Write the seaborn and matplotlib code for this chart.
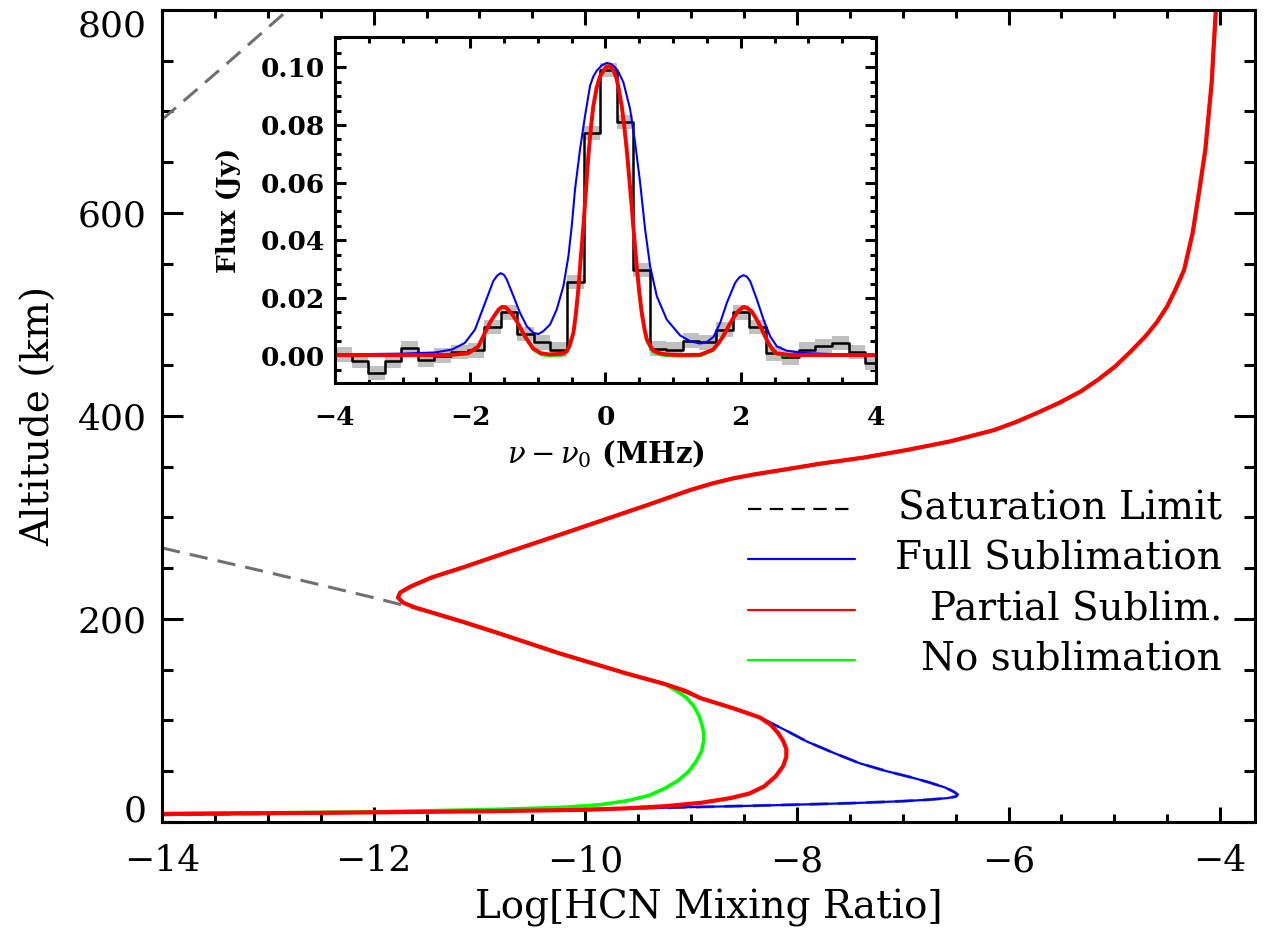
import matplotlib
matplotlib.use("Agg")
import matplotlib.pyplot as plt
from matplotlib.ticker import MultipleLocator, FormatStrFormatter
import seaborn as sns

# ---- main panel: HCN mixing-ratio profiles (log10 mixing ratio vs altitude, km) ----
# shared upper branch, from the top down to where the no-sublimation model splits off
common_x = [-4.04, -4.06, -4.08, -4.11, -4.14, -4.20, -4.26, -4.34, -4.42, -4.50,
            -4.60, -4.71, -4.85, -4.99, -5.15, -5.32, -5.52, -5.73, -5.93, -6.14,
            -6.55, -6.96, -7.37, -7.78, -8.19, -8.40, -8.60, -8.80, -9.01, -9.42,
            -9.83, -10.24, -10.70, -11.15, -11.45, -11.65, -11.75, -11.77,
            -11.72, -11.60, -11.47, -11.15, -10.82, -10.24, -9.60, -9.25]
common_alt = [800, 765, 728, 695, 662, 620, 580, 544, 525, 508,
              492, 478, 463, 449, 436, 424, 413, 403, 394, 386,
              375, 366.5, 359, 353, 346, 342.5, 338.6, 333.5, 327, 312,
              297.5, 283, 267, 251, 241, 232, 226, 221,
              216, 211, 207, 197, 186, 166, 146, 136]

full_x = [-9.05, -8.91, -8.60, -8.35, -8.10, -7.90, -7.65, -7.41, -7.15, -6.92,
          -6.75, -6.60, -6.52, -6.48, -6.50, -6.58, -6.75, -7.00, -7.50, -8.22,
          -9.05, -10.0, -12.0, -14.0]
full_alt = [129, 122, 112, 103, 90, 79, 68, 58, 50, 44,
            39, 34, 30, 27, 25, 23.5, 22, 20.5, 18.5, 16.5,
            14.5, 12.5, 9.5, 7]

partial_x = [-9.05, -8.91, -8.60, -8.35, -8.25, -8.18, -8.13, -8.10, -8.10, -8.13,
             -8.20, -8.31, -8.45, -8.63, -8.90, -9.25, -9.60, -10.0, -11.0, -12.5, -14.0]
partial_alt = [129, 122, 112, 103, 96, 88, 80, 72, 64, 55,
               45, 35, 28, 23.5, 19, 15.5, 13.5, 12, 10.5, 9, 8]

none_x = [-9.15, -9.05, -8.98, -8.93, -8.90, -8.88, -8.88, -8.90, -8.95, -9.02,
          -9.12, -9.25, -9.40, -9.60, -9.86, -10.2, -10.8, -12.0, -14.0]
none_alt = [130, 123, 115, 106, 97, 88, 80, 70, 60, 50,
            41, 33, 26, 21, 17, 14.5, 12.5, 10, 8]

sat_hi_x = [-14.0, -13.40, -12.81]
sat_hi_alt = [692, 746, 800]
sat_lo_x = [-14.0, -13.0, -12.0, -11.47, -10.82, -10.24, -9.60, -9.25, -8.91, -8.60,
            -8.35, -8.10, -7.90, -7.65, -7.41, -7.15, -6.92, -6.75, -6.60, -6.52,
            -6.48, -6.50, -6.58, -6.75, -7.00, -7.50, -8.22, -9.05, -10.0, -12.0, -14.0]
sat_lo_alt = [270, 246, 221, 207, 186, 166, 146, 136, 122, 112,
              103, 90, 79, 68, 58, 50, 44, 39, 34, 30,
              27, 25, 23.5, 22, 20.5, 18.5, 16.5, 14.5, 12.5, 9.5, 7]

alt_ticks = [0, 200, 400, 600, 800]
alt_tick_labels = ["0", "200", "400", "600", "800"]

# ---- inset: observed spectrum and model line profiles ----
chan_edges = [-4.000, -3.755, -3.510, -3.265, -3.020, -2.775, -2.530, -2.285, -2.040,
              -1.795, -1.550, -1.305, -1.060, -0.815, -0.570, -0.325, -0.080, 0.165,
              0.410, 0.655, 0.900, 1.145, 1.390, 1.635, 1.880, 2.125, 2.370, 2.615,
              2.860, 3.105, 3.350, 3.595, 3.840, 4.000]
obs_flux = [0.0004, -0.0018, -0.0060, -0.0018, 0.0025, -0.0015, 0.0000, 0.0012, 0.0018,
            0.0100, 0.0150, 0.0075, 0.0046, 0.0021, 0.0256, 0.0772, 0.0990, 0.0810,
            0.0296, 0.0024, 0.0021, 0.0052, 0.0046, 0.0090, 0.0150, 0.0100, 0.0008,
            -0.0006, 0.0021, 0.0032, 0.0044, 0.0012, -0.0024]
obs_err = 0.0025

red_nu = [-4.0, -2.5, -2.27, -2.03, -1.88, -1.76, -1.70, -1.63, -1.58, -1.53, -1.48,
          -1.44, -1.375, -1.31, -1.25, -1.19, -1.07, -0.95, -0.82, -0.67, -0.62,
          -0.573, -0.53, -0.475, -0.44, -0.402, -0.365, -0.327, -0.29, -0.253, -0.216,
          -0.179, -0.13, -0.08, 0.018, 0.05, 0.092, 0.13, 0.166, 0.20, 0.24, 0.28,
          0.314, 0.35, 0.388, 0.425, 0.462, 0.50, 0.536, 0.575, 0.61, 0.66, 0.71,
          0.80, 0.907, 1.10, 1.40, 1.59, 1.665, 1.74, 1.815, 1.89, 1.965, 2.04, 2.10,
          2.16, 2.225, 2.29, 2.35, 2.41, 2.47, 2.53, 2.73, 3.0, 4.0]
red_flux = [0.0002, 0.0002, 0.0003, 0.0008, 0.0032, 0.0090, 0.0118, 0.0143, 0.0160,
            0.0169, 0.0168, 0.0160, 0.0142, 0.0119, 0.0093, 0.0067, 0.0025, 0.0008,
            0.0004, 0.0006, 0.0008, 0.0015, 0.0035, 0.0079, 0.0140, 0.0229, 0.0340,
            0.0449, 0.0570, 0.0693, 0.0790, 0.0867, 0.0930, 0.0969, 0.1003, 0.1004,
            0.0999, 0.0982, 0.0959, 0.0920, 0.0867, 0.0790, 0.0716, 0.0620, 0.0519,
            0.0410, 0.0311, 0.0220, 0.0150, 0.0095, 0.0058, 0.0035, 0.0017, 0.0008,
            0.0004, 0.0002, 0.0003, 0.0021, 0.0042, 0.0067, 0.0100, 0.0131, 0.0155,
            0.0169, 0.0165, 0.0154, 0.0130, 0.0102, 0.0072, 0.0044, 0.0022, 0.0008,
            0.0002, 0.0002, 0.0002]
green_flux = [0.0001, 0.0001, 0.0002, 0.0006, 0.0029, 0.0087, 0.0115, 0.0141, 0.0158,
              0.0167, 0.0166, 0.0157, 0.0139, 0.0115, 0.0089, 0.0062, 0.0020, 0.0003,
              -0.0001, 0.0001, 0.0003, 0.0011, 0.0030, 0.0073, 0.0133, 0.0222, 0.0332,
              0.0442, 0.0564, 0.0688, 0.0786, 0.0864, 0.0928, 0.0967, 0.1000, 0.1001,
              0.0996, 0.0979, 0.0955, 0.0914, 0.0860, 0.0782, 0.0707, 0.0610, 0.0508,
              0.0400, 0.0300, 0.0210, 0.0140, 0.0087, 0.0050, 0.0028, 0.0011, 0.0003,
              -0.0001, -0.0002, -0.0001, 0.0017, 0.0038, 0.0063, 0.0097, 0.0128, 0.0153,
              0.0166, 0.0162, 0.0151, 0.0126, 0.0098, 0.0068, 0.0039, 0.0018, 0.0004,
              -0.0001, 0.0001, 0.0001]
blue_nu = [-4.0, -3.0, -2.52, -2.27, -2.08, -1.93, -1.78, -1.66, -1.60, -1.55, -1.50,
           -1.46, -1.36, -1.263, -1.164, -1.066, -0.992, -0.918, -0.819, -0.721,
           -0.622, -0.548, -0.499, -0.45, -0.376, -0.302, -0.228, -0.180, -0.129,
           -0.06, 0.019, 0.08, 0.142, 0.20, 0.265, 0.364, 0.438, 0.512, 0.586, 0.66,
           0.759, 0.906, 1.104, 1.252, 1.40, 1.498, 1.597, 1.696, 1.794, 1.918, 1.98,
           2.041, 2.09, 2.14, 2.238, 2.337, 2.435, 2.534, 2.682, 2.928, 3.5, 4.0]
blue_flux = [0.0004, 0.0007, 0.0011, 0.0021, 0.0044, 0.0090, 0.0183, 0.0258, 0.0278,
             0.0286, 0.0280, 0.0264, 0.0206, 0.0148, 0.0102, 0.0079, 0.0075, 0.0085,
             0.0108, 0.0160, 0.0241, 0.0345, 0.0449, 0.0577, 0.0716, 0.0832, 0.0936,
             0.0968, 0.0988, 0.1006, 0.1015, 0.1012, 0.1000, 0.0980, 0.0948, 0.0855,
             0.0739, 0.0600, 0.0438, 0.0310, 0.0206, 0.0125, 0.0070, 0.0050, 0.0042,
             0.0047, 0.0065, 0.0114, 0.0183, 0.0253, 0.0272, 0.0279, 0.0274, 0.0258,
             0.0195, 0.0125, 0.0067, 0.0032, 0.0017, 0.0009, 0.0004, 0.0003]

legend_labels = ["Saturation Limit", "Full Sublimation", "Partial Sublim.", "No sublimation"]

BLUE, RED, GREEN, DGRAY, LGRAY = "#0000ff", "#ff0000", "#00ff00", "#707070", "#c0c0c0"

sns.set_style("white")
plt.rcParams["font.family"] = ["DejaVu Serif"]
plt.rcParams["mathtext.fontset"] = "dejavuserif"
for key in ["text.color", "axes.labelcolor", "xtick.color", "ytick.color"]:
    plt.rcParams[key] = "black"

fig = plt.figure(figsize=(12.77, 9.42), dpi=100)
ax = fig.add_axes([0.1269, 0.1274, 0.8559, 0.8620])


def line(ax, x, y, **kw):
    sns.lineplot(x=x, y=y, sort=False, estimator=None, ax=ax, legend=False, **kw)


def style_ticks(a, lw):
    a.tick_params(which="both", direction="in", top=True, right=True, bottom=True,
                  left=True, width=lw, color="black")
    for s in a.spines.values():
        s.set_linewidth(lw)
        s.set_color("black")


dash = (0, (6, 3.3))
line(ax, sat_hi_x, sat_hi_alt, color=DGRAY, lw=2.2, linestyle=dash)
line(ax, sat_lo_x, sat_lo_alt, color=DGRAY, lw=2.2, linestyle=dash)
line(ax, common_x + full_x, common_alt + full_alt, color=BLUE, lw=1.6)
line(ax, common_x + none_x, common_alt + none_alt, color=GREEN, lw=2.6)
line(ax, common_x + partial_x, common_alt + partial_alt, color=RED, lw=3.0)

ax.set_xlim(-14, -3.67)
ax.set_ylim(0, 800)
ax.xaxis.set_major_locator(MultipleLocator(2))
ax.xaxis.set_minor_locator(MultipleLocator(0.5))
ax.set_yticks(alt_ticks)
ax.set_yticklabels(alt_tick_labels)
ax.yaxis.set_minor_locator(MultipleLocator(50))
style_ticks(ax, 2.2)
ax.tick_params(labelsize=26)
ax.tick_params(axis="x", which="major", length=11, pad=16)
ax.tick_params(axis="x", which="minor", length=6)
ax.tick_params(axis="y", which="major", length=15, pad=11)
ax.tick_params(axis="y", which="minor", length=8)
# keep the end labels inside the axis range, as the original does
ylabs = ax.get_yticklabels()
ylabs[0].set_verticalalignment("baseline")
ylabs[-1].set_verticalalignment("top")
ax.set_xlabel("Log[HCN Mixing Ratio]", fontsize=28, labelpad=8)
ax.set_ylabel("Altitude (km)", fontsize=28, labelpad=14)

# legend, drawn IDL style with right-justified text
leg_styles = [dict(color="black", linestyle=(0, (6, 3.8)), lw=1.6),
              dict(color=BLUE, lw=1.6), dict(color=RED, lw=1.6), dict(color=GREEN, lw=1.6)]
for i, (lab, st) in enumerate(zip(legend_labels, leg_styles)):
    yy = 0.386 - i * 0.0623
    ax.plot([0.536, 0.634], [yy, yy], transform=ax.transAxes, **st)
    ax.text(0.970, yy, lab, transform=ax.transAxes, ha="right", va="center", fontsize=28)

# ---- inset ----
ins = fig.add_axes([0.2623, 0.5934, 0.4237, 0.3673])
ins.set_facecolor("white")
lo = [f - obs_err for f in obs_flux] + [obs_flux[-1] - obs_err]
hi = [f + obs_err for f in obs_flux] + [obs_flux[-1] + obs_err]
ins.fill_between(chan_edges, lo, hi, step="post", color=LGRAY, lw=0)
line(ins, chan_edges, obs_flux + [obs_flux[-1]], color="black", lw=1.8,
     drawstyle="steps-post")
line(ins, blue_nu, blue_flux, color=BLUE, lw=1.5)
line(ins, red_nu, green_flux, color=GREEN, lw=2.0)
line(ins, red_nu, red_flux, color=RED, lw=2.8)

ins.set_xlim(-4, 4)
ins.set_ylim(-0.0095, 0.1105)
ins.xaxis.set_major_locator(MultipleLocator(2))
ins.xaxis.set_minor_locator(MultipleLocator(0.5))
ins.yaxis.set_major_locator(MultipleLocator(0.02))
ins.yaxis.set_minor_locator(MultipleLocator(0.005))
ins.yaxis.set_major_formatter(FormatStrFormatter("%.2f"))
style_ticks(ins, 2.2)
ins.tick_params(labelsize=19)
ins.tick_params(which="major", length=8)
ins.tick_params(which="minor", length=4.5)
ins.tick_params(axis="x", pad=16)
ins.tick_params(axis="y", pad=7)
for t in ins.get_xticklabels() + ins.get_yticklabels():
    t.set_fontweight("bold")
ins.set_xlabel(r"$\nu-\nu_0$ (MHz)", fontsize=21, fontweight="bold", labelpad=6)
ins.set_ylabel("Flux (Jy)", fontsize=19, fontweight="bold", labelpad=14)

fig.savefig("out.png", dpi=100)
